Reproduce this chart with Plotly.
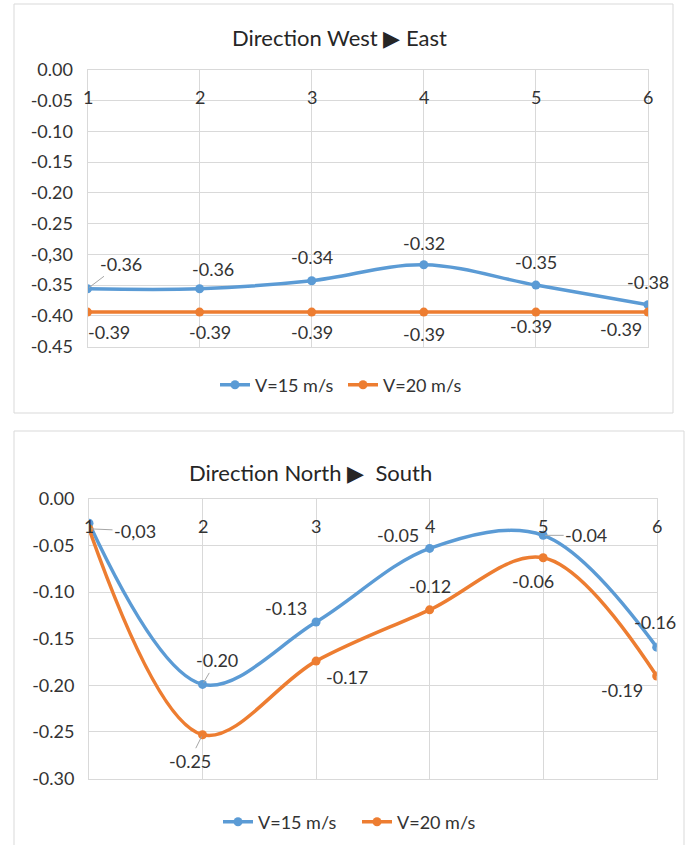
import plotly.graph_objects as go

# ---- data -------------------------------------------------------------
points = [1, 2, 3, 4, 5, 6]

we_v15 = [-0.356, -0.356, -0.343, -0.317, -0.350, -0.382]
we_v20 = [-0.394, -0.394, -0.394, -0.394, -0.394, -0.394]

ns_v15 = [-0.026, -0.199, -0.132, -0.053, -0.039, -0.159]
ns_v20 = [-0.032, -0.253, -0.174, -0.119, -0.063, -0.190]

series_names = ["V=15 m/s", "V=20 m/s"]
titles = ["Direction West \u25B6 East", "Direction North \u25B6  South"]

we_ticks = [0, -0.05, -0.10, -0.15, -0.20, -0.25, -0.30, -0.35, -0.40, -0.45]
we_ticktext = ["0.00", "-0.05", "-0.10", "-0.15", "-0.20", "-0.25",
               "-0,30", "-0.35", "-0.40", "-0.45"]
ns_ticks = [0, -0.05, -0.10, -0.15, -0.20, -0.25, -0.30]
ns_ticktext = ["0.00", "-0.05", "-0.10", "-0.15", "-0.20", "-0.25", "-0.30"]

# ---- styling ----------------------------------------------------------
W, H = 685, 845
BLUE = "#5B9BD5"
ORANGE = "#ED7D31"
GRID = "#D9D9D9"
TEXT = "#333333"
FONT = "Lato"
LBL = 18

# label offsets in pixels (dx, dy; screen y down), None = label hidden,
# third item = draw a leader line
we_v15_lbl = [(33, -25, True), (13, -20, False), (0, -24, False),
              (0, -22, False), (0, -23, False), (0, -23, False)]
we_v20_lbl = [(21, 20, False), (10, 20, False), (0, 20, False),
              (0, 22, False), (-5, 14, False), (-27, 17, False)]
ns_v15_lbl = [None, (14, -24, True), (-30, -14, False),
              (-32, -13, False), (43, 0, True), (-2, -25, False)]
ns_v20_lbl = [(46, 2, True), (-13, 26, True), (31, 16, False),
              (0, -24, False), (-10, 23, False), (-35, 14, False)]
comma_labels = {("ns_v20", 0)}


def px_x(a, b):
    return [a / W, b / W]


def px_y(top, bottom):
    return [1 - bottom / H, 1 - top / H]


fig = go.Figure()

line_style = dict(shape="spline", smoothing=1.0, width=3.5)


def add_series(ys, name, color, legend, xa, ya):
    fig.add_trace(go.Scatter(x=points, y=ys, name=name, mode="lines+markers",
                             line=dict(color=color, **line_style),
                             marker=dict(size=9, color=color), legend=legend,
                             xaxis=xa, yaxis=ya, hoverinfo="skip"))


add_series(we_v15, series_names[0], BLUE, "legend", "x", "y")
add_series(we_v20, series_names[1], ORANGE, "legend", "x", "y")
add_series(ns_v15, series_names[0], BLUE, "legend2", "x2", "y2")
add_series(ns_v20, series_names[1], ORANGE, "legend2", "x2", "y2")

annotations = []


def add_labels(key, xs, ys, offsets, xref, yref):
    for i, (xv, yv, off) in enumerate(zip(xs, ys, offsets)):
        if off is None:
            continue
        dx, dy, leader = off
        txt = f"{yv:.2f}"
        if (key, i) in comma_labels:
            txt = txt.replace(".", ",")
        base = dict(x=xv, y=yv, xref=xref, yref=yref, text=txt,
                    font=dict(family=FONT, size=LBL, color=TEXT))
        if leader:
            annotations.append(dict(base, showarrow=True, arrowhead=0,
                                    arrowwidth=1, arrowcolor="#A6A6A6",
                                    ax=dx, ay=dy, standoff=2))
        else:
            annotations.append(dict(base, showarrow=False,
                                    xshift=dx, yshift=-dy))


add_labels("we_v15", points, we_v15, we_v15_lbl, "x", "y")
add_labels("we_v20", points, we_v20, we_v20_lbl, "x", "y")
add_labels("ns_v15", points, ns_v15, ns_v15_lbl, "x2", "y2")
add_labels("ns_v20", points, ns_v20, ns_v20_lbl, "x2", "y2")

# category numbers sit just under the zero line
for xref, yref in (("x", "y"), ("x2", "y2")):
    for p in points:
        annotations.append(dict(x=p, y=0, xref=xref, yref=yref, text=str(p),
                                showarrow=False, yshift=-27, yanchor="middle",
                                font=dict(family=FONT, size=LBL, color=TEXT)))

# chart titles
annotations.append(dict(x=339.5 / W, y=1 - 37 / H, xref="paper", yref="paper",
                        text=titles[0], showarrow=False,
                        xanchor="center", yanchor="middle",
                        font=dict(family=FONT, size=22, color="#262626")))
annotations.append(dict(x=310 / W, y=1 - 472 / H, xref="paper", yref="paper",
                        text=titles[1], showarrow=False,
                        xanchor="center", yanchor="middle",
                        font=dict(family=FONT, size=22, color="#262626")))

axis_common = dict(showgrid=True, gridcolor=GRID, gridwidth=1,
                   showline=True, linecolor=GRID, linewidth=1, mirror=True,
                   zeroline=False)

legend_common = dict(orientation="h", xanchor="left", yanchor="middle",
                     font=dict(family=FONT, size=LBL, color=TEXT),
                     bgcolor="rgba(0,0,0,0)", entrywidthmode="pixels")

fig.update_layout(
    width=W, height=H,
    margin=dict(l=0, r=0, t=0, b=0, autoexpand=False),
    paper_bgcolor="white", plot_bgcolor="white",
    xaxis=dict(domain=px_x(87.5, 648), range=[1, 6], dtick=1,
               showticklabels=False, anchor="y", **axis_common),
    yaxis=dict(domain=px_y(70, 346.5), range=[-0.45, 0],
               tickvals=we_ticks, ticktext=we_ticktext, ticks="",
               ticklabelstandoff=10, anchor="x",
               tickfont=dict(family=FONT, size=LBL, color=TEXT), **axis_common),
    xaxis2=dict(domain=px_x(89, 656.7), range=[1, 6], dtick=1,
                showticklabels=False, anchor="y2", **axis_common),
    yaxis2=dict(domain=px_y(499, 778.5), range=[-0.30, 0],
                tickvals=ns_ticks, ticktext=ns_ticktext, ticks="",
                ticklabelstandoff=10, anchor="x2",
                tickfont=dict(family=FONT, size=LBL, color=TEXT), **axis_common),
    legend=dict(x=215 / W, y=1 - 385 / H, entrywidth=83, **legend_common),
    legend2=dict(x=218 / W, y=1 - 822 / H, entrywidth=94, **legend_common),
    annotations=annotations,
    shapes=[
        dict(type="rect", xref="paper", yref="paper",
             x0=14 / W, x1=673 / W, y0=1 - 413 / H, y1=1 - 4 / H,
             line=dict(color=GRID, width=1), layer="below"),
        dict(type="rect", xref="paper", yref="paper",
             x0=14 / W, x1=684 / W, y0=1 - 860 / H, y1=1 - 431 / H,
             line=dict(color=GRID, width=1), layer="below"),
    ],
    showlegend=True,
)

fig.write_html("out.html")
